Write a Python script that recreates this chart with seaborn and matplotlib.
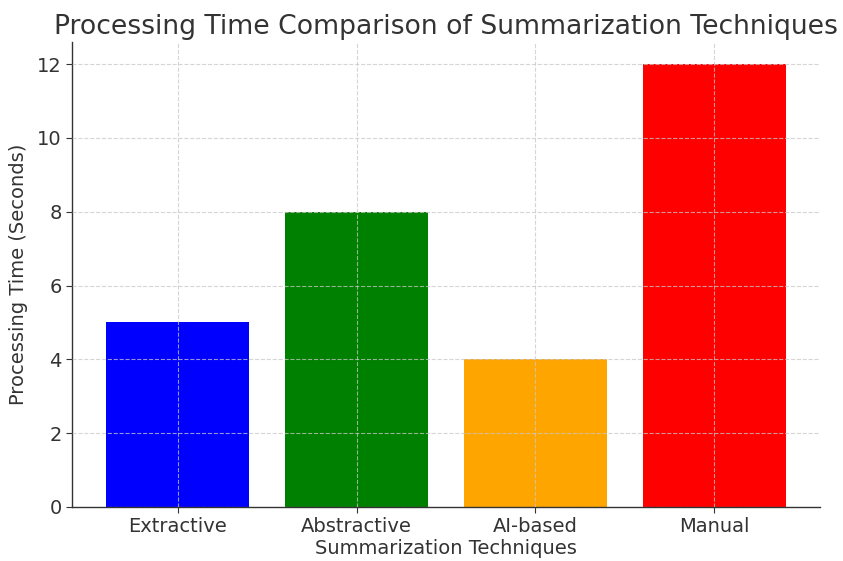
import matplotlib
matplotlib.use("Agg")
import matplotlib.pyplot as plt
import seaborn as sns
import pandas as pd

# Processing time per summarization technique
techniques = ["Extractive", "Abstractive", "AI-based", "Manual"]
times = [5, 8, 4, 12]
bar_colors = ["blue", "green", "orange", "red"]

sns.set_style("white")
plt.rcParams["font.family"] = ["DejaVu Sans"]
text_color = "#333333"

df = pd.DataFrame({"Technique": techniques, "Time": times})

fig = plt.figure(figsize=(8.43, 5.61), dpi=100)
ax = fig.add_axes([72 / 843, 1 - 507 / 561, (820 - 72) / 843, (507 - 42) / 561])

sns.barplot(data=df, x="Technique", y="Time", hue="Technique",
            palette=bar_colors, legend=False, width=0.8, saturation=1,
            linewidth=0, ax=ax)

ax.set_xlim(-0.59, 3.59)
ax.set_ylim(0, 12.6)
ax.set_yticks(range(0, 13, 2))

ax.set_axisbelow(False)
ax.grid(True, linestyle="--", color="#c8c8c8", linewidth=0.8, alpha=0.75)

for side in ("top", "right"):
    ax.spines[side].set_visible(False)
for side in ("left", "bottom"):
    ax.spines[side].set_color("#333333")
    ax.spines[side].set_linewidth(1.0)

ax.tick_params(axis="both", labelsize=14, colors=text_color, length=4,
               left=True, bottom=True)
ax.set_xlabel("Summarization Techniques", fontsize=14, color=text_color, labelpad=2)
ax.set_ylabel("Processing Time (Seconds)", fontsize=14, color=text_color, labelpad=6)
ax.set_title("Processing Time Comparison of Summarization Techniques",
             fontsize=19.2, color=text_color, pad=6)

fig.savefig("out.png", dpi=100)
